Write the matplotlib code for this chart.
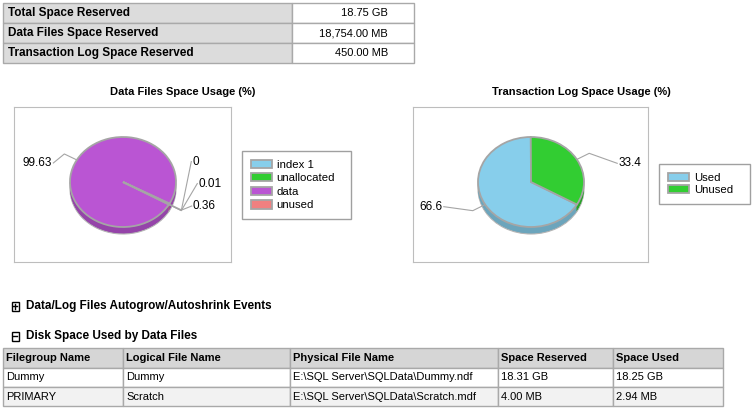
import matplotlib
matplotlib.use("Agg")
import matplotlib.pyplot as plt
from matplotlib.patches import Rectangle
from matplotlib.table import Table
import numpy as np

plt.rcParams["font.family"] = ["Liberation Sans", "DejaVu Sans"]

W, H = 755, 412

# summary table
summary_labels = ["Total Space Reserved", "Data Files Space Reserved", "Transaction Log Space Reserved"]
summary_values = ["18.75 GB", "18,754.00 MB", "450.00 MB"]

# data files pie (%)
data_labels = ["index 1", "unallocated", "data", "unused"]
data_pct = [0, 0.01, 99.63, 0.36]
data_colors = ["#87CEEB", "#32CD32", "#BA55D3", "#F08080"]

# transaction log pie (%)
log_labels = ["Used", "Unused"]
log_pct = [66.6, 33.4]
log_colors = ["#87CEEB", "#32CD32"]

# data files table
file_cols = ["Filegroup Name", "Logical File Name", "Physical File Name", "Space Reserved", "Space Used"]
file_rows = [
    ["Dummy", "Dummy", r"E:\SQL Server\SQLData\Dummy.ndf", "18.31 GB", "18.25 GB"],
    ["PRIMARY", "Scratch", r"E:\SQL Server\SQLData\Scratch.mdf", "4.00 MB", "2.94 MB"],
]

sections = [("+", "Data/Log Files Autogrow/Autoshrink Events"), ("-", "Disk Space Used by Data Files")]

GRID = "#A9A9A9"
FS = 8


def frect(x0, y0, x1, y1):
    # pixel box (top-down) -> figure fraction rect
    return [x0 / W, 1 - y1 / H, (x1 - x0) / W, (y1 - y0) / H]


fig = plt.figure(figsize=(W / 100, H / 100), dpi=100)
bg = fig.add_axes([0, 0, 1, 1])
bg.set_xlim(0, W)
bg.set_ylim(H, 0)
bg.axis("off")

# ---- summary table
tab = Table(bg, bbox=frect(3, 3, 414, 63))
for i, (lab, val) in enumerate(zip(summary_labels, summary_values)):
    c = tab.add_cell(i, 0, width=289, height=20, text=lab, loc="left",
                     facecolor="#DCDCDC", edgecolor=GRID)
    c.PAD = 5 / 289
    c.get_text().set_fontweight("bold")
    c = tab.add_cell(i, 1, width=122, height=20, text=val, loc="right",
                     facecolor="white", edgecolor=GRID)
    c.PAD = 26 / 122
tab.auto_set_font_size(False)
tab.set_fontsize(FS)
for i in range(len(summary_labels)):
    tab[i, 0].get_text().set_fontsize(8.5)
bg.add_table(tab)

# ---- data files table
col_w = [120, 167, 208, 115, 110]
row_h = [20, 19, 19]
ftab = Table(bg, bbox=frect(3, 348, 723, 406))
for j, name in enumerate(file_cols):
    c = ftab.add_cell(0, j, width=col_w[j], height=row_h[0], text=name, loc="left",
                      facecolor="#D6D6D6", edgecolor=GRID)
    c.PAD = 3 / col_w[j]
    c.get_text().set_fontweight("bold")
for i, row in enumerate(file_rows):
    for j, val in enumerate(row):
        c = ftab.add_cell(i + 1, j, width=col_w[j], height=row_h[i + 1], text=val, loc="left",
                          facecolor="white" if i == 0 else "#F2F2F2", edgecolor=GRID)
        c.PAD = 3 / col_w[j]
ftab.auto_set_font_size(False)
ftab.set_fontsize(FS)
bg.add_table(ftab)

# ---- section headers
for k, (sign, title) in enumerate(sections):
    y = 306 + 30 * k
    bg.add_patch(Rectangle((11.5, y - 4.5), 7, 9, fill=False, edgecolor="black", lw=1))
    bg.plot([13, 17], [y, y], color="black", lw=1)
    if sign == "+":
        bg.plot([15, 15], [y - 2.5, y + 2.5], color="black", lw=1)
    bg.text(26, y, title, fontsize=8.5, fontweight="bold", va="center", ha="left")

# ---- pie titles
bg.text(183, 92, "Data Files Space Usage (%)", fontsize=FS, fontweight="bold", ha="center", va="center")
bg.text(581, 92, "Transaction Log Space Usage (%)", fontsize=FS, fontweight="bold", ha="center", va="center")


def shade(c, f):
    r, g, b = matplotlib.colors.to_rgb(c)
    return (r * f, g * f, b * f)


def draw_pie(box, cx, cy, vals, colors, offsets, leg_box, labels, lspace, rx=53, ry=45, depth=7):
    x0, y0, x1, y1 = box
    ax = fig.add_axes(frect(x0, y0, x1, y1))
    side = [shade(c, 0.8) for c in colors]
    for k in range(depth, 0, -1):
        ax.pie(vals, colors=side, startangle=-30, counterclock=False, center=(0, -k / ry),
               wedgeprops=dict(linewidth=0.8 if k == depth else 0, edgecolor="#B5B5B5"))
    wedges, _ = ax.pie(vals, colors=colors, startangle=-30, counterclock=False,
                       wedgeprops=dict(edgecolor="#A5A5A5", linewidth=1.3))
    ax.set_aspect("auto")
    ax.set_xlim((x0 - cx) / rx, (x1 - cx) / rx)
    ax.set_ylim((cy - y1) / ry, (cy - y0) / ry)
    ax.set_frame_on(True)
    ax.set_xticks([])
    ax.set_yticks([])
    for s in ax.spines.values():
        s.set_color("#BDBDBD")

    # value labels with leader lines
    for w, v, (dx, dy, ha) in zip(wedges, vals, offsets):
        a = np.deg2rad((w.theta1 + w.theta2) / 2)
        ex, ey = np.cos(a), np.sin(a)
        bx, by = 1.27 * ex, 1.27 * ey
        tx, ty = bx + dx / rx, by - dy / ry
        ax.plot([ex, bx, tx], [ey, by, ty], color="#A5A5A5", lw=0.8, clip_on=False)
        ax.text(tx + (0.02 if ha == "left" else -0.02), ty, f"{v:g}", fontsize=8.5,
                ha=ha, va="center", clip_on=False)

    lx0, ly0, lx1, ly1 = leg_box
    ax.legend(wedges, labels, loc="upper left", bbox_to_anchor=frect(lx0, ly0, lx1, ly1),
              bbox_transform=fig.transFigure, mode="expand", fancybox=False, framealpha=1,
              edgecolor="#A0A0A0", fontsize=8.2, handlelength=1.9, handleheight=0.75,
              labelspacing=lspace, borderpad=0.75, handletextpad=0.4, borderaxespad=0)
    return ax


draw_pie((14, 107, 231, 262), 123, 182, data_pct, data_colors,
         [(10, -49, "left"), (16, -27, "left"), (-11, 9, "right"), (10, -4, "left")],
         (242, 151, 351, 218), data_labels, 0.3)
draw_pie((413, 107, 648, 262), 531, 182, log_pct, log_colors,
         [(-29, -4, "right"), (28, 10, "left")],
         (659, 164, 750, 204), log_labels, 0.2)

fig.savefig("out.png", dpi=100)
